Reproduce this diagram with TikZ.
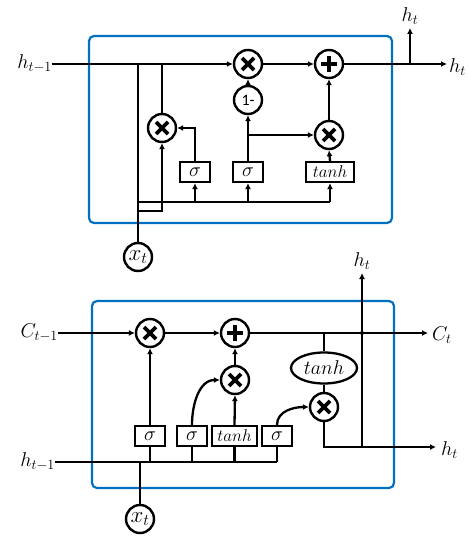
\documentclass[tikz,border=0pt]{standalone}
\usepackage{fontspec}
\usepackage{fix-cm}
\newfontfamily\calfont{Carlito}
\usetikzlibrary{arrows.meta,shapes.geometric}
\definecolor{boxblue}{RGB}{0,112,192}
\tikzset{
  ln/.style={line width=2.3pt},
  arr/.style={line width=2.3pt,-{Latex[length=6pt,width=6pt]}},
  cell/.style={draw=boxblue,line width=2.2pt,rounded corners=5pt},
  op/.style={circle,draw,line width=2.4pt,minimum size=28pt,inner sep=0pt,fill=white},
  mult/.style={op,path picture={
     \draw[line width=3.8pt] ([xshift=-6pt,yshift=-6pt]path picture bounding box.center) -- ([xshift=6pt,yshift=6pt]path picture bounding box.center);
     \draw[line width=3.8pt] ([xshift=-6pt,yshift=6pt]path picture bounding box.center) -- ([xshift=6pt,yshift=-6pt]path picture bounding box.center);}},
  plus/.style={op,path picture={
     \draw[line width=4pt] ([xshift=-8pt]path picture bounding box.center) -- ([xshift=8pt]path picture bounding box.center);
     \draw[line width=4pt] ([yshift=-8pt]path picture bounding box.center) -- ([yshift=8pt]path picture bounding box.center);}},
  gate/.style={draw,line width=2.3pt,fill=white,minimum width=30pt,minimum height=20pt,inner sep=0pt,font=\fontsize{20}{20}\selectfont},
  lbl/.style={inner sep=0pt,font=\fontsize{20}{22}\selectfont},
  inp/.style={op,minimum size=28pt,font=\fontsize{23}{23}\selectfont},
}
\begin{document}
\begin{tikzpicture}[x=1pt,y=-1pt]
\useasboundingbox (0,0) rectangle (467,540);
% ---------------- top cell ----------------
\draw[cell] (89,36) rectangle (392,223);
\node[lbl,anchor=east] (hin) at (52,64) {$h_{t-1}$};
\node[mult] (m1) at (248,64) {};
\node[plus] (p1) at (329,64) {};
\node[op,minimum size=28pt,font=\calfont\fontsize{16}{16}\selectfont] (one) at (248,100) {1-};
\node[mult] (m3) at (329,135) {};
\node[mult] (mr) at (162,128) {};
\node[gate] (s1) at (195,172) {$\sigma$};
\node[gate] (s2) at (248,172) {$\sigma$};
\node[gate,minimum width=48pt,font=\fontsize{17}{17}\selectfont] (th) at (330,172) {$tanh$};
\node[inp] (xt) at (138,257) {$x_t$};
\coordinate (hout) at (447,64);
\coordinate (hup) at (410,28);
\node[lbl,anchor=west] (hlab1) at (449,67) {$h_t$};
\node[lbl,anchor=south] (hlab2) at (410,25) {$h_t$};
\coordinate (ja) at (138,64);
\coordinate (jb) at (162,64);
\coordinate (bus1) at (138,202);
\coordinate (bus2) at (330,202);
\coordinate (rb) at (138,211);
\coordinate (br) at (248,135);
\coordinate (hsplit) at (410,64);

\draw[arr] (hin.east) -- (m1.west);
\draw[ln] (ja) -- (xt.north);
\draw[ln] (jb) -- (mr.north);
\draw[ln] (bus1) -- (bus2);
\draw[arr] (rb) -| (mr.south);
\draw[arr] (s1.south |- bus1) -- (s1.south);
\draw[arr] (s2.south |- bus1) -- (s2.south);
\draw[arr] (bus2) -- (th.south);
\draw[arr] (s1.north) |- (mr.east);
\draw[arr] (s2.north) -- (one.south);
\draw[arr] (one.north) -- (m1.south);
\draw[arr] (br) -- (m3.west);
\draw[arr] (th.north) -- (m3.south);
\draw[arr] (m3.north) -- (p1.south);
\draw[arr] (m1.east) -- (p1.west);
\draw[arr] (p1.east) -- (hout);
\draw[arr] (hsplit) -- (hup);

% ---------------- bottom cell ----------------
\draw[cell] (92,301) rectangle (394,488);
\node[lbl,anchor=east] (cin) at (58,333) {$C_{t-1}$};
\node[lbl,anchor=east] (hin2) at (55,462) {$h_{t-1}$};
\node[mult] (bm1) at (150,333) {};
\node[plus] (bp) at (235,333) {};
\node[mult] (bm2) at (235,380) {};
\node[mult] (bm3) at (324,407) {};
\node[ellipse,draw,line width=2.3pt,minimum width=66pt,minimum height=31pt,inner sep=0pt,font=\fontsize{20}{20}\selectfont] (el) at (324,368) {$tanh$};
\node[gate] (b1) at (150,436) {$\sigma$};
\node[gate] (b2) at (192,436) {$\sigma$};
\node[gate,minimum width=45pt,font=\fontsize{17}{17}\selectfont] (b3) at (234.5,436) {$tanh$};
\node[gate] (b4) at (277,436) {$\sigma$};
\node[inp] (xt2) at (140,519) {$x_t$};
\coordinate (cout) at (428,333);
\coordinate (hout2) at (436,447);
\coordinate (hup2) at (362,273);
\coordinate (hj) at (362,447);
\coordinate (cj) at (324,333);
\coordinate (busend) at (277,462);
\node[lbl,anchor=west] (clab) at (432,335) {$C_t$};
\node[lbl,anchor=west] (hlab3) at (441,450) {$h_t$};
\node[lbl,anchor=south] (hlab4) at (362,270) {$h_t$};

\draw[arr] (cin.east) -- (bm1.west);
\draw[arr] (bm1.east) -- (bp.west);
\draw[arr] (bp.east) -- (cout);
\draw[arr] (bm2.north) -- (bp.south);
\draw[ln] (hin2.east) -- (busend);
\draw[ln] (xt2.north) -- (xt2.north |- busend);
\draw[ln] (b1.south |- busend) -- (b1.south);
\draw[ln] (b2.south |- busend) -- (b2.south);
\draw[ln] (b3.south |- busend) -- (b3.south);
\draw[ln] (busend) -- (b4.south);
\draw[arr] (b1.north) -- (bm1.south);
\draw[arr] (b2.north) to[out=90,in=180] (bm2.west);
\draw[arr] (b3.north) -- (bm2.south);
\draw[arr] (b4.north) to[out=90,in=180] (bm3.west);
\draw[ln] (cj) -- (el.north);
\draw[ln] (el.south) -- (bm3.north);
\draw[arr] (bm3.south) |- (hout2);
\draw[arr] (hj) -- (hup2);
\fill (362,333) circle (2pt);
\end{tikzpicture}
\end{document}
